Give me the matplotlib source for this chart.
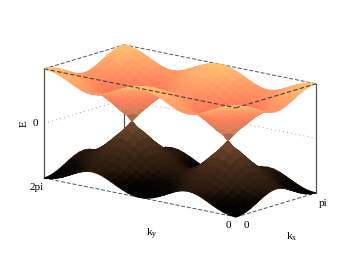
import matplotlib

matplotlib.use("Agg")
import matplotlib.pyplot as plt
import numpy as np
from matplotlib.colors import LinearSegmentedColormap

W, H = 349, 272

# Energia: un cuarto de zona (kx y ky de 0 a pi/2, paso pi/16),
# el resto sale por reflexion porque la superficie es simetrica.
E_QUARTER = np.array([
    [1.414, 1.401, 1.362, 1.300, 1.225, 1.144, 1.071, 1.019, 1.000],
    [1.401, 1.387, 1.347, 1.286, 1.209, 1.127, 1.053, 1.000, 0.981],
    [1.362, 1.347, 1.307, 1.243, 1.163, 1.078, 1.000, 0.944, 0.924],
    [1.300, 1.286, 1.243, 1.176, 1.091, 1.000, 0.915, 0.854, 0.831],
    [1.225, 1.209, 1.163, 1.091, 1.000, 0.899, 0.804, 0.734, 0.707],
    [1.144, 1.127, 1.078, 1.000, 0.899, 0.786, 0.675, 0.589, 0.556],
    [1.071, 1.053, 1.000, 0.915, 0.804, 0.675, 0.541, 0.430, 0.383],
    [1.019, 1.000, 0.944, 0.854, 0.734, 0.589, 0.430, 0.276, 0.195],
    [1.000, 0.981, 0.924, 0.831, 0.707, 0.556, 0.383, 0.195, 0.000],
])
E_LEVELS = [-1.414, -1.2, -1.0, -0.5, 0.0, 0.35, 0.75, 1.05, 1.414]
E_COLORS = ["#000000", "#0a0503", "#28180d", "#4b301c", "#7c5236", "#d8805a", "#ff7f5c", "#ff9a66", "#ffc072"]
Z_TICKS = [0]

# extremos de la caja en pixeles
BOX_LEFT_X, BOX_RIGHT_X = 44, 316
BOX_TOP_Y, BOX_BOTTOM_Y = 45, 217


def full_grid(q):
    by_x = np.r_[q, q[-2::-1]]
    return np.c_[by_x, by_x[:, -2::-1], by_x[:, 1:], by_x[:, -2::-1]]


def facet_colors(z, cmap, zmin, zmax):
    mid = (z[:-1, :-1] + z[1:, :-1] + z[:-1, 1:] + z[1:, 1:]) / 4
    return cmap((mid - zmin) / (zmax - zmin))


def fit_axes(ax, corners):
    """Escala y mueve el axes cuadrado para que la caja caiga en sus pixeles."""
    from mpl_toolkits.mplot3d import proj3d

    side = 300.0
    ax.set_position([0, 0, side / W, side / H])
    xs, ys, _ = proj3d.proj_transform(*corners, ax.get_proj())
    pts = ax.transData.transform(np.c_[xs, ys])
    side *= (BOX_RIGHT_X - BOX_LEFT_X) / np.ptp(pts[:, 0])
    ax.set_position([0, 0, side / W, side / H])
    pts = ax.transData.transform(np.c_[xs, ys])
    dx = BOX_LEFT_X - pts[:, 0].min()
    dy = (H - BOX_BOTTOM_Y) - pts[:, 1].min()
    ax.set_position([dx / W, dy / H, side / W, side / H])


def label(x, y, text, **kw):
    plt.gcf().text(x / W, 1 - y / H, text, ha="center", va="center", fontsize=8, **kw)


def main():
    plt.rcParams["font.family"] = ["Liberation Serif", "DejaVu Serif"]
    plt.rcParams["mathtext.default"] = "regular"

    energy = full_grid(E_QUARTER)
    kx = np.linspace(0, np.pi, energy.shape[0])
    ky = np.linspace(0, 2 * np.pi, energy.shape[1])
    zmax = E_QUARTER.max()
    nodes = [(v + zmax) / (2 * zmax) for v in E_LEVELS]
    nodes[0], nodes[-1] = 0.0, 1.0
    cmap = LinearSegmentedColormap.from_list("bands", list(zip(nodes, E_COLORS)))
    KY, KX = np.meshgrid(ky, kx)

    fig = plt.figure(figsize=(W / 100, H / 100), dpi=100)
    ax = fig.add_subplot(projection="3d", proj_type="ortho", computed_zorder=False)
    ax.set_axis_off()
    ax.patch.set_alpha(0)
    ax.set_xlim(0, np.pi, view_margin=0)
    ax.set_ylim(0, 2 * np.pi, view_margin=0)
    ax.set_zlim(-zmax, zmax, view_margin=0)
    ax.set_box_aspect((126, 248, 112.5))
    ax.view_init(elev=14.3, azim=-140.6)

    x0, x1, y0, y1 = 0, np.pi, 0, 2 * np.pi
    zb, zt = -zmax, zmax
    corners = (
        np.array([x0, x1, x0, x1] * 2),
        np.array([y0, y0, y1, y1] * 2),
        np.array([zb] * 4 + [zt] * 4),
    )
    fit_axes(ax, corners)

    edge = "#555555"
    dash = (0, (4, 2))
    dots = (0, (1, 4))
    # paredes de atras: rejilla punteada en E=0 y vertical del fondo
    for z in Z_TICKS:
        ax.plot([x0, x1, x1], [y1, y1, y0], [z, z, z], color="#888888", ls=dots, lw=0.6, zorder=1)
    ax.plot([x1, x1], [y1, y1], [zb, zt], color=edge, lw=0.9, zorder=1)
    ax.plot([x0, x0], [y1, y1], [zb, zt], color=edge, lw=0.9, zorder=1)
    ax.plot([x1, x1], [y0, y0], [zb, zt], color=edge, lw=0.9, zorder=1)
    ax.plot([x0, x1], [y1, y1], [zt, zt], color=edge, lw=0.7, ls=dash, zorder=1)
    ax.plot([x1, x1], [y0, y1], [zt, zt], color=edge, lw=0.7, ls=dash, zorder=1)
    # borde inferior delantero
    ax.plot([x0, x0], [y1, y0], [zb, zb], color=edge, lw=0.7, ls=dash, zorder=1)
    ax.plot([x0, x1], [y0, y0], [zb, zb], color=edge, lw=0.7, ls=dash, zorder=1)

    ax.plot_surface(KX, KY, -energy, facecolors=facet_colors(-energy, cmap, -zmax, zmax),
                    rstride=1, cstride=1, shade=False, linewidth=0.7, zorder=2)
    ax.plot_surface(KX, KY, energy, facecolors=facet_colors(energy, cmap, -zmax, zmax),
                    rstride=1, cstride=1, shade=False, linewidth=0.7, zorder=3)

    # borde superior delantero, por encima de la superficie
    ax.plot([x0, x0], [y1, y0], [zt, zt], color="#444444", lw=0.8, ls=dash, zorder=4)
    ax.plot([x0, x1], [y0, y0], [zt, zt], color="#444444", lw=0.8, ls=dash, zorder=4)

    label(24, 124, "E", rotation=90)
    label(35, 124, "0")
    label(37, 188, "2pi")
    label(228, 226, "0")
    label(246, 225, "0")
    label(323, 203, "pi")
    label(152, 234, "k$_{y}$")
    label(292, 237, "k$_{x}$")

    fig.savefig("out.png", dpi=100)
    plt.close(fig)


if __name__ == "__main__":
    main()
